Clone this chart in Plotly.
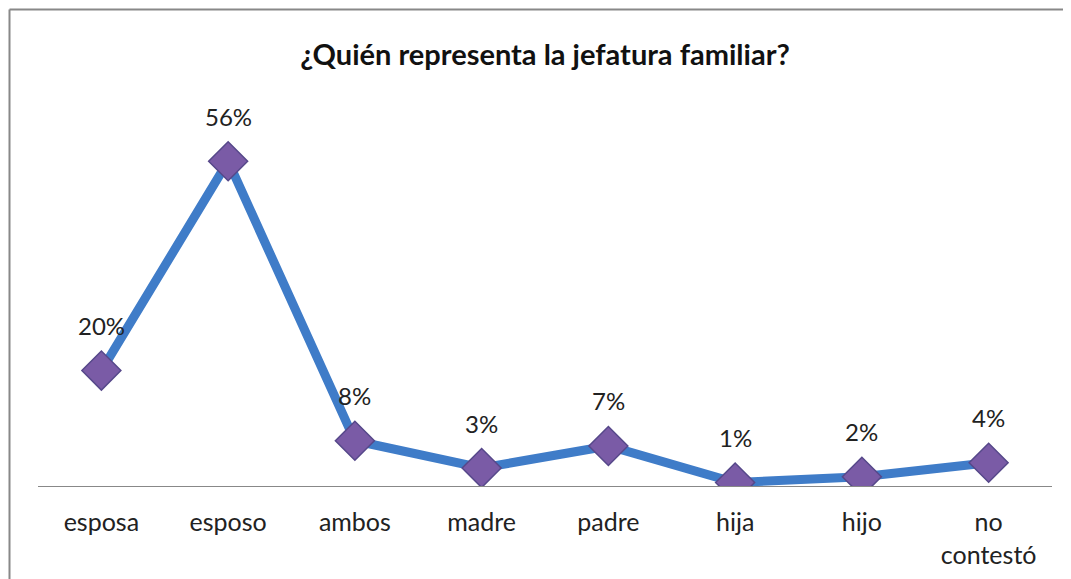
import plotly.graph_objects as go

categories = ["esposa", "esposo", "ambos", "madre", "padre", "hija", "hijo", "no contestó"]
tick_labels = ["esposa", "esposo", "ambos", "madre", "padre", "hija", "hijo", "no<br>contestó"]
values = [0.199, 0.56, 0.078, 0.031, 0.069, 0.006, 0.016, 0.04]
value_labels = ["20%", "56%", "8%", "3%", "7%", "1%", "2%", "4%"]

FONT = "Lato, 'Open Sans', sans-serif"

W, H = 1071, 579
L, R, T, B = 30, 27, 130, 101
PW, PH = W - L - R, H - T - B

fig = go.Figure()
fig.add_trace(go.Scatter(
    x=categories, y=values, mode="lines+markers",
    line=dict(color="#3F7CC8", width=9),
    marker=dict(symbol="diamond", size=30, color="#7A5BA6",
                line=dict(color="#56488A", width=1.5)),
    hoverinfo="skip", showlegend=False,
))

for c, v, t in zip(categories, values, value_labels):
    fig.add_annotation(x=c, y=v, text=t, showarrow=False, yshift=45,
                       yanchor="middle", font=dict(family=FONT, size=24, color="#222222"))

# chart border (top and left edges visible)
bx = (1.5 - L) / PW
by = (PH + T - 1.5) / PH
fig.add_shape(type="line", xref="paper", yref="paper",
              x0=bx, x1=2.0, y0=by, y1=by,
              line=dict(color="#888888", width=2))
fig.add_shape(type="line", xref="paper", yref="paper",
              x0=bx, x1=bx, y0=-1.0, y1=by,
              line=dict(color="#888888", width=2))

fig.update_layout(
    width=W, height=H,
    margin=dict(l=L, r=R, t=T, b=B),
    paper_bgcolor="white", plot_bgcolor="white",
    title=dict(text="<b>¿Quién representa la jefatura familiar?</b>",
               x=537/W, xanchor="center", y=1-47/H, yanchor="middle",
               xref="container", yref="container",
               font=dict(family=FONT, size=29, color="#111111")),
    xaxis=dict(
        type="category", tickmode="array", tickvals=categories, ticktext=tick_labels,
        showgrid=False, showline=True, linecolor="#888888", linewidth=1.2,
        ticks="", ticklabelstandoff=14,
        tickfont=dict(family=FONT, size=25, color="#222222"),
        range=[-0.5, 7.5],
    ),
    yaxis=dict(range=[0, 0.6], showgrid=False, showticklabels=False,
               zeroline=False, showline=False),
)

fig.write_html("out.html")
